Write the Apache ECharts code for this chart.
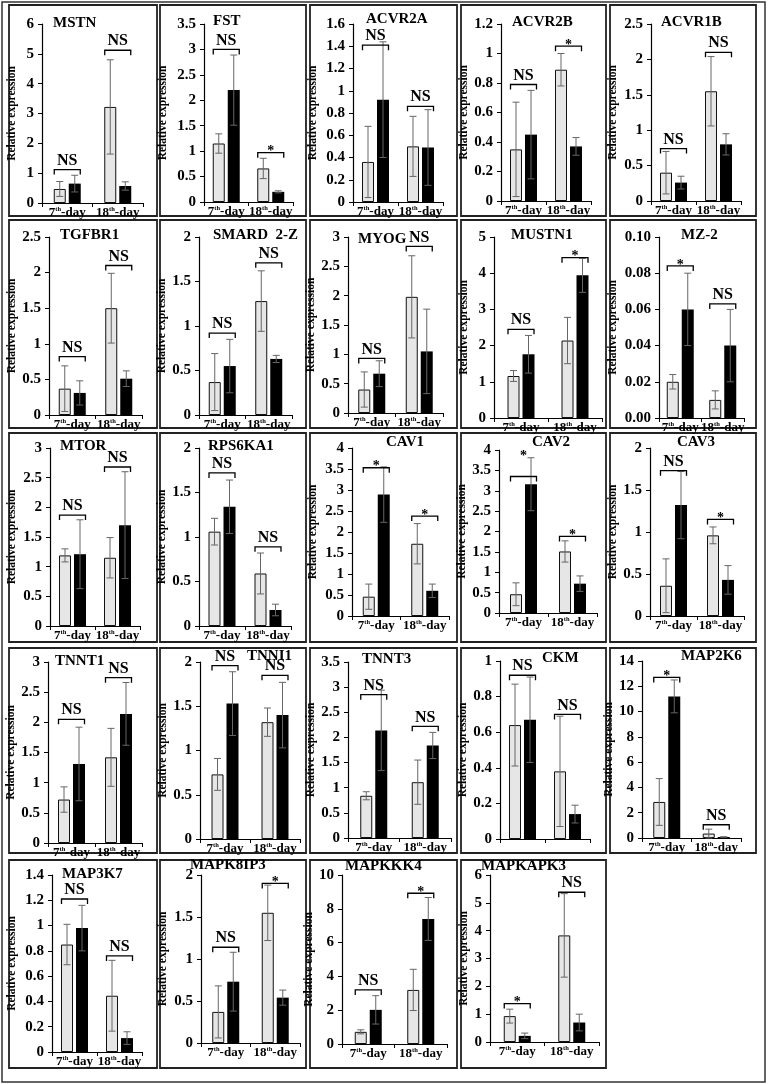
<!DOCTYPE html>
<html>
<head>
<meta charset="UTF-8">
<title>Relative expression panels</title>
<script src="https://cdn.jsdelivr.net/npm/echarts@6.0.0/dist/echarts.min.js"></script>
<style>
  html, body { margin: 0; padding: 0; background: #fff; }
  #main { width: 768px; height: 1084px; }
</style>
</head>
<body>
<div id="main"></div>
<script>
// ---- data (7th-day, 18th-day) ----
var genes = ['MSTN', 'FST', 'ACVR2A', 'ACVR2B', 'ACVR1B',
             'TGFBR1', 'SMARD  2-Z', 'MYOG', 'MUSTN1', 'MZ-2',
             'MTOR', 'RPS6KA1', 'CAV1', 'CAV2', 'CAV3',
             'TNNT1', 'TNNI1', 'TNNT3', 'CKM', 'MAP2K6',
             'MAP3K7', 'MAPK8IP3', 'MAPKKK4', 'MAPKAPK3'];
var days = ['7th-day', '18th-day'];

var yMax  = [6, 3.5, 1.6, 1.2, 2.5,  2.5, 2, 3, 5, 0.1,  3, 2, 4, 4, 2,  3, 2, 3.5, 1, 14,  1.4, 2, 10, 6];
var yStep = [1, 0.5, 0.2, 0.2, 0.5,  0.5, 0.5, 0.5, 1, 0.02,  0.5, 0.5, 0.5, 0.5, 0.5,  0.5, 0.5, 0.5, 0.2, 2,  0.2, 0.5, 2, 1];

// light grey bars
var lightMean = [[0.47, 3.22], [1.15, 0.66], [0.36, 0.50], [0.35, 0.89], [0.40, 1.55],
                 [0.37, 1.50], [0.37, 1.28], [0.40, 1.98], [1.16, 2.14], [0.020, 0.010],
                 [1.19, 1.15], [1.06, 0.59], [0.46, 1.72], [0.46, 1.51], [0.36, 0.96],
                 [0.72, 1.42], [0.73, 1.32], [0.84, 1.11], [0.64, 0.38], [2.85, 0.35],
                 [0.85, 0.445], [0.37, 1.55], [0.72, 3.20], [0.93, 3.83]];
var lightErr  = [[0.25, 1.58], [0.19, 0.20], [0.32, 0.27], [0.32, 0.11], [0.30, 0.49],
                 [0.32, 0.49], [0.32, 0.34], [0.30, 0.70], [0.15, 0.64], [0.004, 0.005],
                 [0.11, 0.34], [0.15, 0.23], [0.30, 0.48], [0.28, 0.26], [0.32, 0.10],
                 [0.21, 0.48], [0.18, 0.16], [0.08, 0.44], [0.23, 0.31], [1.85, 0.35],
                 [0.16, 0.28], [0.31, 0.33], [0.12, 1.22], [0.25, 1.50]];
// black bars
var darkMean  = [[0.65, 0.57], [2.20, 0.20], [0.92, 0.49], [0.45, 0.37], [0.26, 0.80],
                 [0.31, 0.51], [0.55, 0.63], [0.67, 1.05], [1.76, 3.94], [0.060, 0.040],
                 [1.21, 1.70], [1.34, 0.18], [2.89, 0.60], [3.16, 0.72], [1.32, 0.43],
                 [1.31, 2.14], [1.53, 1.40], [2.14, 1.84], [0.67, 0.14], [11.2, 0.08],
                 [0.98, 0.11], [0.73, 0.54], [2.02, 7.40], [0.22, 0.70]];
var darkErr   = [[0.28, 0.14], [0.69, 0.02], [0.52, 0.34], [0.30, 0.06], [0.09, 0.15],
                 [0.17, 0.11], [0.30, 0.04], [0.22, 0.72], [0.52, 0.47], [0.020, 0.020],
                 [0.58, 0.90], [0.30, 0.065], [0.66, 0.16], [0.65, 0.19], [0.40, 0.17],
                 [0.61, 0.52], [0.36, 0.37], [0.80, 0.26], [0.24, 0.05], [1.30, 0.02],
                 [0.18, 0.05], [0.35, 0.09], [0.84, 1.27], [0.10, 0.30]];

// significance brackets: height and mark for each day
var bracketY = [[1.12, 5.12], [3.0, 0.97], [1.41, 0.86], [0.79, 1.05], [0.74, 2.1],
                [0.82, 2.1], [0.92, 1.71], [0.93, 2.84], [2.45, 4.43], [0.084, 0.063],
                [1.87, 2.68], [1.72, 0.89], [3.53, 2.38], [3.35, 1.88], [1.73, 1.15],
                [2.05, 2.74], [1.96, 1.85], [2.85, 2.22], [0.92, 0.70], [12.7, 1.05],
                [1.21, 0.76], [1.14, 1.90], [3.2, 8.92], [1.38, 5.38]];
var bracketMark = [['NS', 'NS'], ['NS', '*'], ['NS', 'NS'], ['NS', '*'], ['NS', 'NS'],
                   ['NS', 'NS'], ['NS', 'NS'], ['NS', 'NS'], ['NS', '*'], ['*', 'NS'],
                   ['NS', 'NS'], ['NS', 'NS'], ['*', '*'], ['*', '*'], ['NS', '*'],
                   ['NS', 'NS'], ['NS', 'NS'], ['NS', 'NS'], ['NS', 'NS'], ['*', 'NS'],
                   ['NS', 'NS'], ['NS', '*'], ['NS', '*'], ['*', 'NS']];
var markLift = { 'CAV2': [3.82, null] };   // mark drawn higher than its bracket
var noDayLabels = ['CKM'];
var twoDecimals = ['MZ-2'];

// ---- layout (page px) ----
var colX = [[9, 157], [160, 306], [310, 457], [461, 606], [610, 756]];
var rowY = [[5, 216], [220, 428], [433, 642], [648, 853], [860, 1068]];
// plot area: [axis x, axis end x, top y, zero y]
var plotBox = [[42, 143, 24, 203], [204, 293, 24, 202], [353, 443, 24, 202], [501, 591, 24, 201], [651, 741, 24, 201],
               [49, 142, 237, 415], [199, 292, 237, 415], [348, 443, 237, 413], [494, 602, 237, 418], [659, 744, 237, 418],
               [50, 140, 448, 626], [199, 291, 448, 626], [352, 449, 448, 616], [499, 597, 450, 613], [650, 744, 448, 616],
               [48, 142, 662, 843], [200, 300, 662, 839], [348, 451, 662, 838], [500, 590, 661, 839], [642, 741, 661, 838],
               [52, 142, 875, 1052], [201, 300, 875, 1043], [342, 447, 875, 1044], [490, 599, 875, 1042]];
// gene name: [left x, middle y]
var titlePos = [[53, 24], [213, 22], [366, 20], [512, 23], [661, 23],
                [60, 236], [213, 236], [358, 240], [511, 236], [681, 236],
                [60, 447], [208, 447], [386, 443], [532, 443], [677, 443],
                [55, 662], [247, 657], [362, 660], [542, 659], [681, 657],
                [62, 875], [190, 866], [345, 867], [481, 867]];

var FONT = '"Liberation Serif", "Times New Roman", serif';
var BAR_W = 12;
var SHIFT = 7.5;   // half distance between the two bar centres

function fmtDay(v) {
    return v.replace(/^(\d+)th/, '$1{s|th}');
}

function errRender(params, api) {
    var cat = api.value(0), m = api.value(1), e = api.value(2), side = api.value(3);
    var hi = api.coord([cat, m + e]);
    var lo = api.coord([cat, Math.max(0, m - e)]);
    var x = hi[0] + side * SHIFT;
    var st = { stroke: '#666', lineWidth: 1 };
    return {
        type: 'group',
        children: [
            { type: 'line', shape: { x1: x, y1: hi[1], x2: x, y2: lo[1] }, style: st },
            { type: 'line', shape: { x1: x - 3.5, y1: hi[1], x2: x + 3.5, y2: hi[1] }, style: st },
            { type: 'line', shape: { x1: x - 3.5, y1: lo[1], x2: x + 3.5, y2: lo[1] }, style: st }
        ]
    };
}

function makeBracketRender(gi) {
    return function (params, api) {
        var cat = api.value(0);
        var p = api.coord([cat, api.value(1)]);
        var mark = bracketMark[gi][params.dataIndex];
        var lift = markLift[genes[gi]];
        var ty = p[1];
        if (lift && lift[params.dataIndex] != null) {
            ty = api.coord([cat, lift[params.dataIndex]])[1];
        }
        var star = mark === '*';
        return {
            type: 'group',
            children: [
                { type: 'polyline',
                  shape: { points: [[p[0] - 13, p[1] + 5], [p[0] - 13, p[1]], [p[0] + 13, p[1]], [p[0] + 13, p[1] + 5]] },
                  style: { fill: 'none', stroke: '#000', lineWidth: 1.3 } },
                { type: 'text',
                  style: { text: mark, x: p[0], y: star ? ty + 6 : ty - 1,
                           align: 'center', verticalAlign: 'bottom',
                           textAlign: 'center', textVerticalAlign: 'bottom',
                           font: 'bold ' + (star ? 14 : 16) + 'px ' + FONT, fill: '#000' } }
            ]
        };
    };
}

var grids = [], xAxes = [], yAxes = [], series = [], titles = [], frames = [];

frames.push({ type: 'rect', silent: true, shape: { x: 2, y: 2, width: 763, height: 1080 },
              style: { fill: 'none', stroke: '#333', lineWidth: 1.5 } });

genes.forEach(function (g, i) {
    var col = i % 5, row = Math.floor(i / 5);
    var bx = colX[col], by = rowY[row], pb = plotBox[i];

    frames.push({ type: 'rect', silent: true,
                  shape: { x: bx[0], y: by[0], width: bx[1] - bx[0], height: by[1] - by[0] },
                  style: { fill: 'none', stroke: '#222', lineWidth: 1.8 } });

    grids.push({ left: pb[0], top: pb[2], width: pb[1] - pb[0], height: pb[3] - pb[2] });

    xAxes.push({
        type: 'category', gridIndex: i, data: days,
        axisLine: { lineStyle: { color: '#000', width: 1.2 } },
        axisTick: { show: true, length: 4, lineStyle: { color: '#000' } },
        axisLabel: {
            show: noDayLabels.indexOf(g) < 0,
            margin: 3, interval: 0, color: '#000',
            fontFamily: FONT, fontWeight: 'bold', fontSize: 13,
            formatter: fmtDay,
            rich: { s: { fontFamily: FONT, fontWeight: 'bold', fontSize: 6.5, verticalAlign: 'top', color: '#000' } }
        }
    });

    yAxes.push({
        type: 'value', gridIndex: i, min: 0, max: yMax[i], interval: yStep[i],
        name: 'Relative expression', nameLocation: 'middle', nameRotate: 90,
        nameGap: pb[0] - (bx[0] + 9),
        nameTextStyle: { fontFamily: FONT, fontWeight: 'bold', fontSize: 11.5, color: '#000' },
        axisLine: { show: true, lineStyle: { color: '#000', width: 1.2 } },
        axisTick: { show: true, length: 4, lineStyle: { color: '#000' } },
        splitLine: { show: false },
        axisLabel: {
            margin: 8, color: '#000', fontFamily: FONT, fontWeight: 'bold', fontSize: 15,
            formatter: function (v) {
                return twoDecimals.indexOf(g) >= 0 ? v.toFixed(2) : String(+v.toFixed(3));
            }
        }
    });

    series.push({
        type: 'bar', xAxisIndex: i, yAxisIndex: i, silent: true,
        data: lightMean[i], barWidth: BAR_W, barGap: '25%',
        itemStyle: { color: '#e6e6e6', borderColor: '#111', borderWidth: 1 }
    });
    series.push({
        type: 'bar', xAxisIndex: i, yAxisIndex: i, silent: true,
        data: darkMean[i], barWidth: BAR_W, barGap: '25%',
        itemStyle: { color: '#000' }
    });

    var errData = [];
    for (var d = 0; d < 2; d++) {
        errData.push([d, lightMean[i][d], lightErr[i][d], -1]);
        errData.push([d, darkMean[i][d], darkErr[i][d], 1]);
    }
    series.push({
        type: 'custom', xAxisIndex: i, yAxisIndex: i, silent: true, z: 5, clip: false,
        renderItem: errRender, data: errData
    });

    series.push({
        type: 'custom', xAxisIndex: i, yAxisIndex: i, silent: true, z: 6, clip: false,
        renderItem: makeBracketRender(i),
        data: [[0, bracketY[i][0]], [1, bracketY[i][1]]]
    });

    titles.push({
        text: g, left: titlePos[i][0], top: titlePos[i][1] - 8, padding: 0,
        textStyle: { fontFamily: FONT, fontWeight: 'bold', fontSize: 15, color: '#000' }
    });
});

var chart = echarts.init(document.getElementById('main'));
chart.setOption({
    backgroundColor: '#fff',
    animation: false,
    title: titles,
    grid: grids,
    xAxis: xAxes,
    yAxis: yAxes,
    series: series,
    graphic: frames
});
</script>
</body>
</html>
